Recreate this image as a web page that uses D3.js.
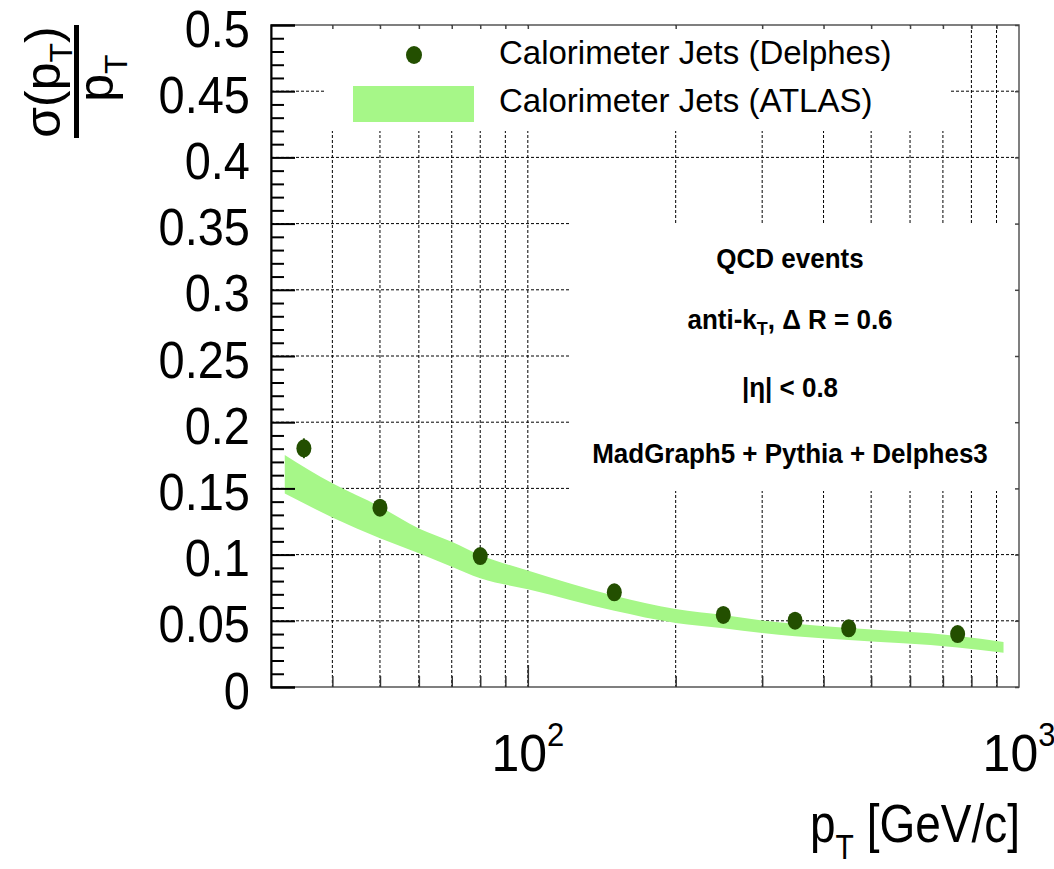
<!DOCTYPE html>
<html>
<head>
<meta charset="utf-8">
<script src="https://cdn.jsdelivr.net/npm/d3@7"></script>
<style>
  body { margin: 0; background: #fff; }
  svg { display: block; font-family: "Liberation Sans", Arial, Helvetica, sans-serif; }
</style>
</head>
<body>
<svg id="chart" width="1054" height="869"></svg>
<script>
// Delphes points
const ptPoints = [35, 50, 80, 150, 250, 350, 450, 750];
const resPoints = [0.1803, 0.1354, 0.0989, 0.0715, 0.0544, 0.0501, 0.0443, 0.0400];
const resErrors = [0.0075, 0.004, 0.003, 0.003, 0.002, 0.002, 0.002, 0.002];

// ATLAS band
const ptBand = [32, 40, 50, 60, 70, 80, 100, 150, 200, 250, 300, 350, 450, 750, 930];
const bandHigh = [0.1752, 0.1538, 0.1362, 0.1198, 0.1098, 0.0997, 0.0880, 0.0689, 0.0589, 0.0543, 0.0503, 0.0477, 0.0445, 0.0385, 0.0340];
const bandLow = [0.1461, 0.1281, 0.1123, 0.1010, 0.0909, 0.0821, 0.0738, 0.0575, 0.0483, 0.0443, 0.0407, 0.0383, 0.0355, 0.0299, 0.0258];

const yMajor = [0, 0.05, 0.1, 0.15, 0.2, 0.25, 0.3, 0.35, 0.4, 0.45, 0.5];
const yLabels = ["0", "0.05", "0.1", "0.15", "0.2", "0.25", "0.3", "0.35", "0.4", "0.45", "0.5"];
const xMinor = [40, 50, 60, 70, 80, 90, 200, 300, 400, 500, 600, 700, 800, 900];
const xMajor = [100, 1000];
const xLabelExp = ["2", "3"];

const legendLabels = ["Calorimeter Jets (Delphes)", "Calorimeter Jets (ATLAS)"];

const svg = d3.select("#chart");

const mLeft = 271, mRight = 1019, mTop = 25, mBottom = 687;

const x = d3.scaleLog().domain([30, 1000]).range([mLeft, mRight]);
const y = d3.scaleLinear().domain([0, 0.5]).range([mBottom, mTop]);

const markColor = "#234f00";
const bandColor = "#a6f788";

// grid
const grid = svg.append("g")
  .attr("stroke", "#000")
  .attr("stroke-width", 1)
  .attr("stroke-dasharray", "3,2");

grid.selectAll("line.v")
  .data(xMinor.concat([100]))
  .enter().append("line")
  .attr("x1", d => x(d)).attr("x2", d => x(d))
  .attr("y1", mTop).attr("y2", mBottom);

grid.selectAll("line.h")
  .data(yMajor.slice(1, -1))
  .enter().append("line")
  .attr("x1", mLeft).attr("x2", mRight)
  .attr("y1", d => y(d)).attr("y2", d => y(d));

// band
const bandData = ptBand.map((p, i) => ({ p: p, lo: bandLow[i], hi: bandHigh[i] }));
svg.append("path")
  .datum(bandData)
  .attr("fill", bandColor)
  .attr("d", d3.area()
    .curve(d3.curveMonotoneX)
    .x(d => x(d.p))
    .y0(d => y(d.lo))
    .y1(d => y(d.hi)));

// points
const pts = ptPoints.map((p, i) => ({ p: p, v: resPoints[i], e: resErrors[i] }));
svg.append("g").selectAll("line")
  .data(pts)
  .enter().append("line")
  .attr("x1", d => x(d.p)).attr("x2", d => x(d.p))
  .attr("y1", d => y(d.v - d.e)).attr("y2", d => y(d.v + d.e))
  .attr("stroke", markColor)
  .attr("stroke-width", 2);

svg.append("g").selectAll("ellipse")
  .data(pts)
  .enter().append("ellipse")
  .attr("cx", d => x(d.p))
  .attr("cy", d => y(d.v))
  .attr("rx", 7.5)
  .attr("ry", 9)
  .attr("fill", markColor);

// legend box
svg.append("rect")
  .attr("x", 325).attr("y", mTop + 1)
  .attr("width", 625).attr("height", 105)
  .attr("fill", "#fff");

svg.append("ellipse")
  .attr("cx", 414).attr("cy", 55)
  .attr("rx", 8).attr("ry", 9)
  .attr("fill", markColor);

svg.append("rect")
  .attr("x", 353).attr("y", 86)
  .attr("width", 121).attr("height", 36)
  .attr("fill", bandColor);

svg.append("g").selectAll("text")
  .data(legendLabels)
  .enter().append("text")
  .attr("x", 499)
  .attr("y", (d, i) => 64 + i * 48)
  .attr("font-size", 33)
  .attr("fill", "#000")
  .text(d => d);

// info box
svg.append("rect")
  .attr("x", 570).attr("y", 223)
  .attr("width", mRight - 570).attr("height", 268)
  .attr("fill", "#fff");

const info = svg.append("g")
  .attr("font-size", 26)
  .attr("font-weight", "bold")
  .attr("text-anchor", "middle");

function infoLine(yPos) {
  return info.append("text")
    .attr("transform", "translate(790," + yPos + ") scale(1,1.07)");
}

infoLine(268).text("QCD events");
const kt = infoLine(329);
kt.append("tspan").text("anti-k");
kt.append("tspan").attr("font-size", 18).attr("dy", 6).text("T");
kt.append("tspan").attr("dy", -6).text(", \u0394 R = 0.6");
infoLine(397).text("|\u03b7| < 0.8");
infoLine(463).text("MadGraph5 + Pythia + Delphes3");

// frame
svg.append("rect")
  .attr("x", mLeft).attr("y", mTop)
  .attr("width", mRight - mLeft).attr("height", mBottom - mTop)
  .attr("fill", "none")
  .attr("stroke", "#555")
  .attr("stroke-width", 1.5);

// y axis
const yMinor = d3.range(1, 50).map(i => i / 100).filter(v => Math.round(v * 100) % 5 !== 0);

const yAxis = svg.append("g")
  .attr("transform", "translate(" + mLeft + ",0)")
  .call(d3.axisLeft(y).tickValues(yMajor).tickSize(-24).tickFormat((d, i) => yLabels[i]));
yAxis.select(".domain").attr("stroke", "#000").attr("stroke-width", 2);
yAxis.selectAll(".tick line").attr("stroke", "#000").attr("stroke-width", 2);
yAxis.selectAll(".tick text")
  .attr("x", null).attr("dy", null)
  .attr("transform", "translate(-21,21) scale(1,1.12)")
  .attr("font-size", 47)
  .attr("font-family", "'Liberation Sans', Arial, Helvetica, sans-serif")
  .attr("fill", "#000");

const yAxisMinor = svg.append("g")
  .attr("transform", "translate(" + mLeft + ",0)")
  .call(d3.axisLeft(y).tickValues(yMinor).tickSize(-13).tickFormat(""));
yAxisMinor.select(".domain").remove();
yAxisMinor.selectAll(".tick line").attr("stroke", "#000").attr("stroke-width", 2);

const yAxisRight = svg.append("g")
  .attr("transform", "translate(" + mRight + ",0)")
  .call(d3.axisRight(y).tickValues(yMajor).tickSize(-4).tickFormat(""));
yAxisRight.select(".domain").remove();
yAxisRight.selectAll(".tick line").attr("stroke", "#444").attr("stroke-width", 1.5);

// x axis
const xAxisMinor = svg.append("g")
  .attr("transform", "translate(0," + mBottom + ")")
  .call(d3.axisBottom(x).tickValues(xMinor).tickSize(-11).tickFormat(""));
xAxisMinor.select(".domain").remove();
xAxisMinor.selectAll(".tick line").attr("stroke", "#333").attr("stroke-width", 1.5);

const xAxisMajor = svg.append("g")
  .attr("transform", "translate(0," + mBottom + ")")
  .call(d3.axisBottom(x).tickValues([100]).tickSize(-22).tickFormat(""));
xAxisMajor.select(".domain").remove();
xAxisMajor.selectAll(".tick line").attr("stroke", "#333").attr("stroke-width", 1.5);

const xAxisTop = svg.append("g")
  .attr("transform", "translate(0," + mTop + ")")
  .call(d3.axisTop(x).tickValues(xMinor.concat([100])).tickSize(-4).tickFormat(""));
xAxisTop.select(".domain").remove();
xAxisTop.selectAll(".tick line").attr("stroke", "#444").attr("stroke-width", 1.5);

const xLab = svg.append("g").selectAll("text")
  .data(xMajor)
  .enter().append("text")
  .attr("transform", d => "translate(" + x(d) + ",771) scale(1,1.05)")
  .attr("text-anchor", "middle")
  .attr("font-size", 50)
  .attr("fill", "#000");
xLab.append("tspan").text("10");
xLab.append("tspan").attr("font-size", 31).attr("dy", -24).text((d, i) => xLabelExp[i]);

// axis titles
const xt = svg.append("text")
  .attr("transform", "translate(1020,842) scale(1,1.15)")
  .attr("text-anchor", "end")
  .attr("font-size", 46)
  .attr("fill", "#000");
xt.append("tspan").text("p");
xt.append("tspan").attr("font-size", 30).attr("dy", 15).text("T");
xt.append("tspan").attr("dy", -15).text(" [GeV/c]");

const num = svg.append("text")
  .attr("transform", "translate(60,82) rotate(-90)")
  .attr("text-anchor", "middle")
  .attr("font-size", 50)
  .attr("fill", "#000");
num.append("tspan").text("\u03c3(p");
num.append("tspan").attr("font-size", 32).attr("dy", 12).text("T");
num.append("tspan").attr("dy", -12).text(")");

svg.append("rect")
  .attr("x", 74).attr("y", mTop)
  .attr("width", 5).attr("height", 113)
  .attr("fill", "#000");

const den = svg.append("text")
  .attr("transform", "translate(113,78) rotate(-90)")
  .attr("text-anchor", "middle")
  .attr("font-size", 50)
  .attr("fill", "#000");
den.append("tspan").text("p");
den.append("tspan").attr("font-size", 32).attr("dy", 14).text("T");
</script>
</body>
</html>
